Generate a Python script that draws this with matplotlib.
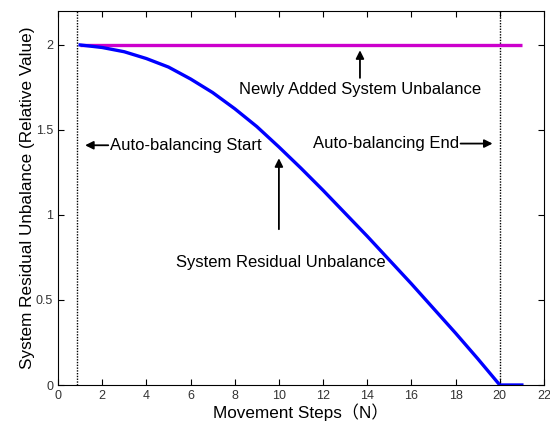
import matplotlib
matplotlib.use("Agg")
import matplotlib.pyplot as plt

steps = [1, 2, 3, 4, 5, 6, 7, 8, 9, 10, 11, 12, 13, 14, 15, 16, 17, 18, 19, 20, 21]
residual = [2.00, 1.985, 1.96, 1.92, 1.87, 1.80, 1.72, 1.625, 1.52, 1.40, 1.275,
            1.145, 1.01, 0.875, 0.735, 0.595, 0.45, 0.305, 0.155, 0.00, 0.00]
added_x = [1, 21]
added_y = [2, 2]
start_x = 0.86
end_x = 20
xticks = [0, 2, 4, 6, 8, 10, 12, 14, 16, 18, 20, 22]
yticks = [0, 0.5, 1, 1.5, 2]
yticklabels = ["0", "0.5", "1", "1.5", "2"]

fam = ["Liberation Sans", "Noto Sans CJK SC", "DejaVu Sans"]
plt.rcParams["font.family"] = fam

fig = plt.figure(figsize=(5.5, 4.21), dpi=100)
ax = fig.add_axes([0.1055, 0.0855, 0.8835, 0.8885])

ax.axvline(start_x, color="black", linestyle=(0, (1, 1)), linewidth=1.0)
ax.axvline(end_x, color="black", linestyle=(0, (1, 1)), linewidth=1.0)
ax.plot(added_x, added_y, color="#CC00CC", linewidth=2.4, solid_capstyle="butt")
ax.plot(steps, residual, color="#0000FF", linewidth=2.4, solid_joinstyle="round")

ax.set_xlim(0, 22)
ax.set_ylim(0, 2.2)
ax.set_xticks(xticks)
ax.set_yticks(yticks)
ax.set_yticklabels(yticklabels)
ax.tick_params(direction="in", top=True, right=True, length=4, labelsize=9,
               colors="black", labelcolor="#333333")
ax.set_xlabel("Movement Steps（N）", fontsize=12.3, labelpad=1)
ax.set_ylabel("System Residual Unbalance (Relative Value)", fontsize=12.3, labelpad=1)

arrow = dict(arrowstyle="-|>", color="black", lw=1.3, mutation_scale=12)
fs = 12
ax.annotate("", xy=(13.67, 1.985), xytext=(13.67, 1.79), arrowprops=arrow)
ax.text(13.67, 1.74, "Newly Added System Unbalance", ha="center", va="center", fontsize=fs)

ax.annotate("", xy=(1.1, 1.41), xytext=(2.4, 1.41), arrowprops=arrow)
ax.text(2.35, 1.41, "Auto-balancing Start", ha="left", va="center", fontsize=fs)

ax.annotate("", xy=(19.8, 1.42), xytext=(18.1, 1.42), arrowprops=arrow)
ax.text(18.15, 1.42, "Auto-balancing End", ha="right", va="center", fontsize=fs)

ax.annotate("", xy=(10.0, 1.35), xytext=(10.0, 0.9), arrowprops=arrow)
ax.text(10.1, 0.72, "System Residual Unbalance", ha="center", va="center", fontsize=fs)

fig.savefig("out.png", dpi=100)
